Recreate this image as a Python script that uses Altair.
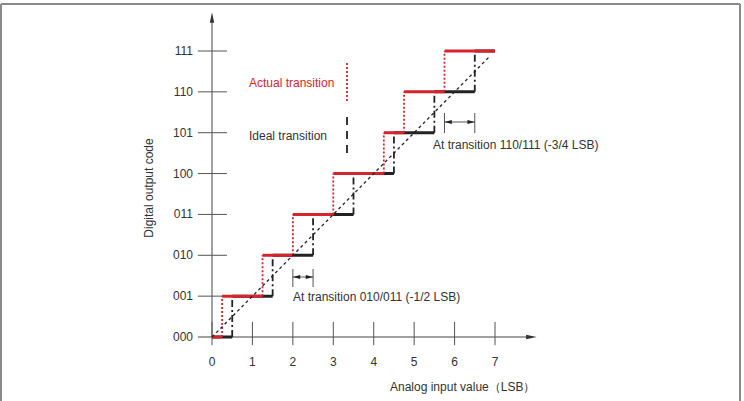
import altair as alt
import pandas as pd

# ---- data ----
codes = [0, 1, 2, 3, 4, 5, 6, 7]
code_labels = ["000", "001", "010", "011", "100", "101", "110", "111"]
x_ticks = [0, 1, 2, 3, 4, 5, 6, 7]
ideal_transitions = [0.5, 1.5, 2.5, 3.5, 4.5, 5.5, 6.5]
actual_transitions = [0.25, 1.25, 2.0, 3.0, 4.25, 4.75, 5.75]
x_end = 7.0
diag_end = 6.85

RED = "#d7232b"
DARK = "#222222"
TXT = "#333333"
FONT = "Liberation Sans"

W, H = 744, 401
X0, PPX = 212, 40.43
Y0, PPY = 337, 40.857
xs = alt.Scale(domain=[-X0 / PPX, (W - X0) / PPX], range=[0, W], nice=False, zero=False)
ys = alt.Scale(domain=[(Y0 - H) / PPY, Y0 / PPY], range=[H, 0], nice=False, zero=False)


def steps(trans):
    starts = [0.0] + trans
    ends = trans + [x_end]
    return pd.DataFrame({"x": starts, "x2": ends, "y": codes, "y2": codes})


def risers(trans):
    return pd.DataFrame({"x": trans, "x2": trans, "y": codes[:-1], "y2": codes[1:]})


def seg(df, **mk):
    return alt.Chart(df).mark_rule(**mk).encode(
        x=alt.X("x:Q", scale=xs, axis=None),
        x2="x2:Q",
        y=alt.Y("y:Q", scale=ys, axis=None),
        y2="y2:Q",
    )


layers = []

# frame
frame = pd.DataFrame({"x": [1, 1, 740], "x2": [740, 1, 740], "y": [4, 4, 4], "y2": [4, 401, 401]})
layers.append(
    alt.Chart(frame).mark_rule(color="#8a8a8a", strokeWidth=2).encode(
        x=alt.X("x:Q", scale=None, axis=None), x2="x2:Q",
        y=alt.Y("y:Q", scale=None, axis=None), y2="y2:Q")
)

# axes
axes = pd.DataFrame({"x": [-0.35, 0.0], "x2": [7.8, 0.0], "y": [0.0, 0.0], "y2": [0.0, 7.75]})
layers.append(seg(axes, color="#444444", strokeWidth=1))
ytk = pd.DataFrame({"x": [-0.35] * len(codes[1:]), "x2": [0.37] * len(codes[1:]), "y": codes[1:], "y2": codes[1:]})
layers.append(seg(ytk, color="#555555", strokeWidth=1))
xtk = pd.DataFrame({"x": x_ticks, "x2": x_ticks, "y": [0.37] * len(x_ticks), "y2": [-0.2] * len(x_ticks)})
layers.append(seg(xtk, color="#555555", strokeWidth=1))

arrows = pd.DataFrame({"x": [7.9, 0.0], "y": [0.0, 7.82], "a": [90, 0]})
layers.append(
    alt.Chart(arrows).mark_point(shape="M0,-1L0.42,1L-0.42,1Z", filled=True, color="#333333", size=110, opacity=1).encode(
        x=alt.X("x:Q", scale=xs, axis=None), y=alt.Y("y:Q", scale=ys, axis=None),
        angle=alt.Angle("a:Q", scale=None))
)

# tick labels
xl = pd.DataFrame({"x": x_ticks, "t": [str(v) for v in x_ticks]})
layers.append(
    alt.Chart(xl).mark_text(font=FONT, fontSize=12, color=TXT, baseline="middle", align="center").encode(
        x=alt.X("x:Q", scale=xs, axis=None), y=alt.value(362), text="t:N")
)
yl = pd.DataFrame({"y": codes, "t": code_labels})
layers.append(
    alt.Chart(yl).mark_text(font=FONT, fontSize=12, color=TXT, baseline="middle", align="right").encode(
        x=alt.value(193), y=alt.Y("y:Q", scale=ys, axis=None), text="t:N")
)

# ideal staircase (black)
layers.append(seg(steps(ideal_transitions), color=DARK, strokeWidth=3))
layers.append(seg(risers(ideal_transitions), color=DARK, strokeWidth=1.8, strokeDash=[7, 3, 2, 3]))
# actual staircase (red)
layers.append(seg(steps(actual_transitions), color=RED, strokeWidth=3))
layers.append(seg(risers(actual_transitions), color=RED, strokeWidth=1.8, strokeDash=[2, 2]))
# diagonal
diag = pd.DataFrame({"x": [0.0], "x2": [diag_end], "y": [0.0], "y2": [diag_end]})
layers.append(seg(diag, color=DARK, strokeWidth=1.3, strokeDash=[3, 3]))

# legend
lx = (347 - X0) / PPX
leg_red = pd.DataFrame({"x": [lx], "x2": [lx], "y": [(Y0 - 63) / PPY], "y2": [(Y0 - 102) / PPY]})
leg_blk = pd.DataFrame({"x": [lx], "x2": [lx], "y": [(Y0 - 117) / PPY], "y2": [(Y0 - 153) / PPY]})
layers.append(seg(leg_red, color=RED, strokeWidth=1.8, strokeDash=[2, 2]))
layers.append(seg(leg_blk, color=DARK, strokeWidth=1.8, strokeDash=[8, 6]))

texts = pd.DataFrame({
    "px": [249, 249, 293, 433, 390],
    "py": [83, 136, 297, 145, 387],
    "t": ["Actual transition", "Ideal transition", "At transition 010/011 (-1/2 LSB)",
          "At transition 110/111 (-3/4 LSB)", "Analog input value（LSB）"],
    "c": [RED, TXT, TXT, TXT, TXT],
})
layers.append(
    alt.Chart(texts).mark_text(font=FONT, fontSize=12, baseline="middle", align="left").encode(
        x=alt.X("px:Q", scale=None, axis=None), y=alt.Y("py:Q", scale=None, axis=None),
        text="t:N", color=alt.Color("c:N", scale=None))
)
ytitle = pd.DataFrame({"px": [149], "py": [188], "t": ["Digital output code"]})
layers.append(
    alt.Chart(ytitle).mark_text(font=FONT, fontSize=12, baseline="middle", align="center", angle=270, color=TXT).encode(
        x=alt.X("px:Q", scale=None, axis=None), y=alt.Y("py:Q", scale=None, axis=None), text="t:N")
)

# brackets
def py2v(p):
    return (Y0 - p) / PPY

br = pd.DataFrame({
    "x": [2.0, 2.5, actual_transitions[6], ideal_transitions[6]],
    "x2": [2.0, 2.5, actual_transitions[6], ideal_transitions[6]],
    "y": [py2v(269), py2v(269), py2v(113), py2v(113)],
    "y2": [py2v(287), py2v(287), py2v(133), py2v(133)],
})
layers.append(seg(br, color="#555555", strokeWidth=1))
brl = pd.DataFrame({"x": [2.0, actual_transitions[6]], "x2": [2.5, ideal_transitions[6]],
                    "y": [py2v(277), py2v(122)], "y2": [py2v(277), py2v(122)]})
layers.append(seg(brl, color="#555555", strokeWidth=1))
ah = pd.DataFrame({
    "x": [2.0 + 0.09, 2.5 - 0.09, actual_transitions[6] + 0.09, ideal_transitions[6] - 0.09],
    "y": [py2v(277), py2v(277), py2v(122), py2v(122)],
    "a": [270, 90, 270, 90],
})
layers.append(
    alt.Chart(ah).mark_point(shape="M0,-1L0.55,1L-0.55,1Z", filled=True, color="#222222", size=55, opacity=1).encode(
        x=alt.X("x:Q", scale=xs, axis=None), y=alt.Y("y:Q", scale=ys, axis=None),
        angle=alt.Angle("a:Q", scale=None))
)

chart = alt.layer(*layers).properties(
    width=W, height=H, autosize=alt.AutoSizeParams(type="none"), padding=0,
    background="white",
).configure_view(stroke=None)

chart.save("out.html", embed_options={"renderer": "svg", "actions": False})
